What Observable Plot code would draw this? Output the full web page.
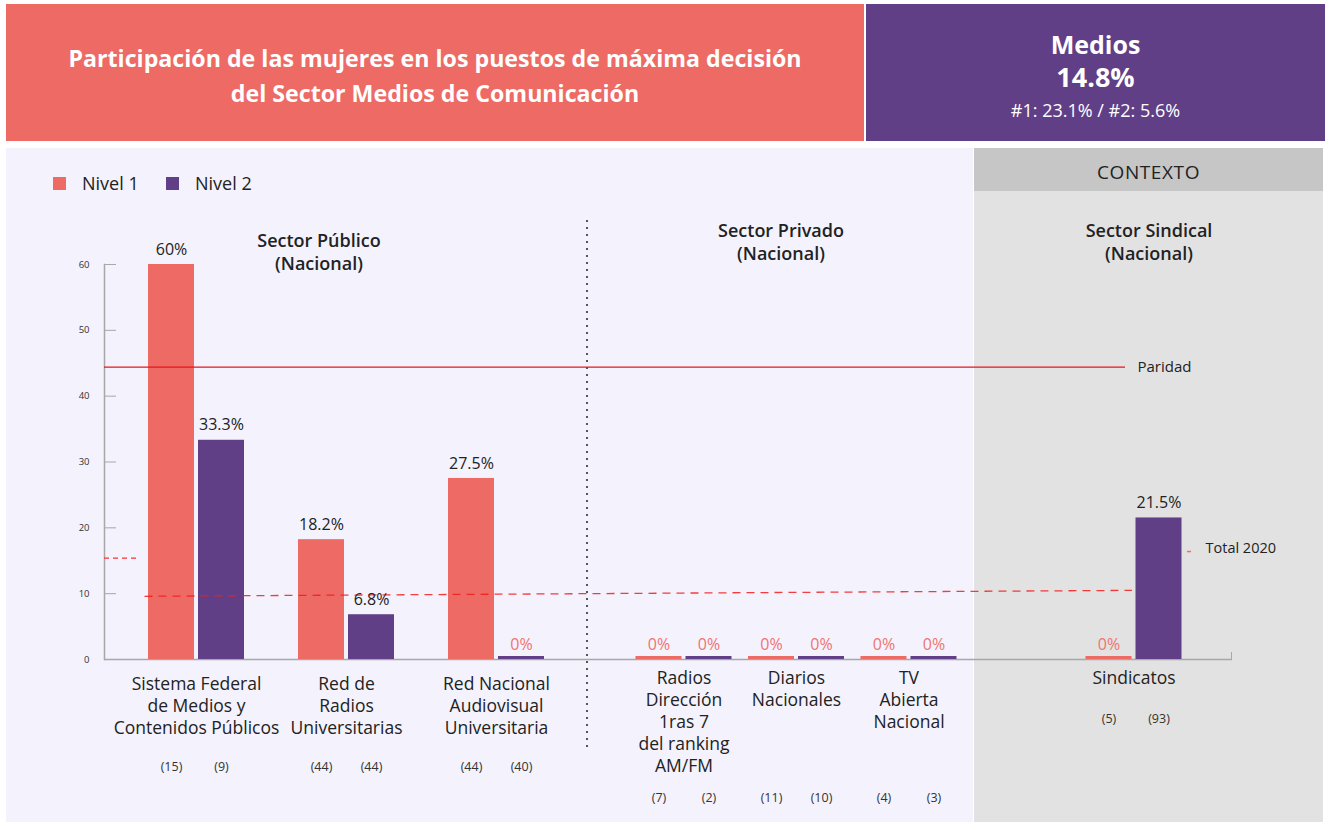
<!DOCTYPE html>
<html><head><meta charset="utf-8">
<script src="https://cdn.jsdelivr.net/npm/d3@7"></script>
<script src="https://cdn.jsdelivr.net/npm/@observablehq/plot@0.6"></script>
<style>
body{margin:0;width:1325px;height:832px;position:relative;background:#fff;font-family:"Open Sans","Noto Sans",sans-serif;overflow:hidden;color:#222}
.abs{position:absolute}
.c{text-align:center;white-space:nowrap}
</style></head><body>
<div class="abs" style="left:6px;top:4px;width:858px;height:137px;background:#EE6A65"></div>
<div class="abs" style="left:866px;top:4px;width:459px;height:137px;background:#613F86"></div>
<div class="abs c" style="left:6px;width:858px;top:41px;line-height:35px;font-size:23.2px;font-weight:700;color:#fff">Participación de las mujeres en los puestos de máxima decisión<br>del Sector Medios de Comunicación</div>
<div class="abs c" style="left:866px;width:459px;top:29px;line-height:30px;font-size:25px;font-weight:700;color:#fff">Medios</div>
<div class="abs c" style="left:866px;width:459px;top:62px;line-height:30px;font-size:27px;font-weight:700;color:#fff">14.8%</div>
<div class="abs c" style="left:866px;width:459px;top:99px;line-height:22px;font-size:18px;color:#fff">#1: 23.1% / #2: 5.6%</div>

<div class="abs" style="left:6px;top:148px;width:967px;height:674px;background:#F3F2FD"></div>
<div class="abs" style="left:974px;top:148px;width:349px;height:43px;background:#C6C6C6"></div>
<div class="abs" style="left:974px;top:191px;width:349px;height:631px;background:#E2E2E2"></div>
<div class="abs c" style="left:974px;width:349px;top:160px;line-height:24px;font-size:19px;letter-spacing:0.6px;font-weight:500">CONTEXTO</div>

<div class="abs" style="left:53px;top:177px;width:13px;height:13px;background:#EE6A65"></div>
<div class="abs" style="left:82px;top:171px;line-height:24px;font-size:18px">Nivel 1</div>
<div class="abs" style="left:166px;top:177px;width:13px;height:13px;background:#613F86"></div>
<div class="abs" style="left:195px;top:171px;line-height:24px;font-size:18px">Nivel 2</div>

<div class="abs c" style="left:219px;width:200px;top:229px;line-height:23px;font-size:18px;font-weight:600">Sector Público<br>(Nacional)</div>
<div class="abs c" style="left:681px;width:200px;top:219px;line-height:23px;font-size:18px;font-weight:600">Sector Privado<br>(Nacional)</div>
<div class="abs c" style="left:1049px;width:200px;top:219px;line-height:23px;font-size:18px;font-weight:600">Sector Sindical<br>(Nacional)</div>

<div class="abs" style="left:586px;top:220px;width:2px;height:530px;background:repeating-linear-gradient(to bottom,#555 0 2px,transparent 2px 7px)"></div>

<div id="chart" class="abs" style="left:0;top:145px"></div>
<script>
const categorias = [
  "Sistema Federal\nde Medios y\nContenidos Públicos",
  "Red de\nRadios\nUniversitarias",
  "Red Nacional\nAudiovisual\nUniversitaria",
  "Radios\nDirección\n1ras 7\ndel ranking\nAM/FM",
  "Diarios\nNacionales",
  "TV\nAbierta\nNacional",
  "Sindicatos"
];
const sectores = ["publico", "publico", "publico", "privado", "privado", "privado", "sindical"];
const nivel1 = [60, 18.2, 27.5, 0, 0, 0, 0];
const nivel2 = [33.3, 6.8, 0, 0, 0, 0, 21.5];
const casos1 = [15, 44, 44, 7, 11, 4, 5];
const casos2 = [9, 44, 40, 2, 10, 3, 93];
const yTicks = [0, 10, 20, 30, 40, 50, 60];
const paridad = 44.4;
const totalInicio = 9.6;
const totalFin = 10.5;
const totalMarcaIzq = 15.4;
const totalMarcaDer = 16.4;

const salmon = "#EE6A65", morado = "#613F86";
const colores = [salmon, morado];

// layout: empty band slots before each group (each group takes 5 slots)
const huecos = [0, 7, 7, 10, 4, 4, 13];
const dominio = [];
categorias.forEach((c, i) => {
  for (let k = 0; k < huecos[i]; k++) dominio.push(`h${i}-${k}`);
  dominio.push(`${i}|1`, `${i}|a`, `${i}|c`, `${i}|b`, `${i}|2`);
});

const filas = [];
categorias.forEach((c, i) => {
  filas.push({slot: `${i}|1`, nivel: 1, v: nivel1[i], n: casos1[i], sector: sectores[i]});
  filas.push({slot: `${i}|2`, nivel: 2, v: nivel2[i], n: casos2[i], sector: sectores[i]});
});
const grupos = categorias.map((c, i) => ({slot: `${i}|c`, label: c, sector: sectores[i]}));
const lineaTotal = [{x1: "0|1", x2: `${categorias.length - 1}|2`, y1: totalInicio, y2: totalFin}];

const dyCat = {publico: 15, privado: 9, sindical: 9};
const dyN = {publico: 111, privado: 142, sindical: 63};
const barInset = -16.75;

const marks = [
  Plot.ruleY([0], {stroke: "#A8A8A8", strokeWidth: 1.5}),
  Plot.frame({anchor: "left", stroke: "#A8A8A8", strokeWidth: 1.5}),
  Plot.ruleY(yTicks, {stroke: "#A8A8A8", insetRight: 1116}),
  Plot.axisY(yTicks, {tickSize: 0, tickPadding: 15, fontSize: 9.5, fill: "#333", label: null}),
  Plot.rect([0], {insetLeft: 1127, insetTop: 388, fill: "#A8A8A8"}),
  Plot.barY(filas.filter(d => d.v > 0), {x: "slot", y: "v", fill: d => colores[d.nivel - 1], insetLeft: barInset, insetRight: barInset}),
  Plot.barY(filas.filter(d => d.v === 0), {x: "slot", y: "v", fill: d => colores[d.nivel - 1], insetLeft: barInset, insetRight: barInset, insetTop: -3}),
  Plot.ruleY([paridad], {stroke: "#E8141B", strokeWidth: 1.3, insetRight: 107}),
  Plot.text([{y: paridad, t: "Paridad"}], {y: "y", text: "t", frameAnchor: "right", dx: -95, textAnchor: "start", fontSize: 15, fill: "#222"}),
  Plot.link(lineaTotal, {x1: "x1", x2: "x2", y1: "y1", y2: "y2", dx: -27, stroke: "#F21C1C", strokeOpacity: 0.85, strokeWidth: 1.3, strokeDasharray: "8,6"}),
  Plot.ruleY([totalMarcaIzq], {stroke: "#F33", strokeWidth: 1.2, strokeDasharray: "5,4", insetRight: 1092}),
  Plot.ruleY([totalMarcaDer], {stroke: "#F66", strokeWidth: 1.5, insetLeft: 1083, insetRight: 41}),
  Plot.text([{y: totalMarcaDer, t: "Total 2020"}], {y: "y", text: "t", frameAnchor: "right", dx: -27, dy: -3, textAnchor: "start", fontSize: 14.5, fill: "#222"}),
  Plot.text(filas, {x: "slot", y: "v", text: d => `${d.v}%`, dy: -15, fontSize: 16, fill: d => d.v === 0 ? "#F07470" : "#222"})
];
for (const s of ["publico", "privado", "sindical"]) {
  marks.push(Plot.text(grupos.filter(d => d.sector === s), {x: "slot", frameAnchor: "bottom", text: "label", lineAnchor: "top", dy: dyCat[s], fontSize: 17.5, lineHeight: 1.26, fill: "#222"}));
  marks.push(Plot.text(filas.filter(d => d.sector === s), {x: "slot", frameAnchor: "bottom", text: d => `(${d.n})`, dy: dyN[s], fontSize: 12.5, fill: "#333"}));
}

const chart = Plot.plot({
  width: 1325, height: 680,
  marginLeft: 104, marginRight: 93, marginTop: 119, marginBottom: 166,
  x: {type: "band", domain: dominio, range: [164.75, 1164.75], padding: 0, round: false, axis: null},
  y: {domain: [0, 60], range: [514, 119], axis: null},
  color: {type: "identity"},
  style: {fontFamily: "'Open Sans', 'Noto Sans', sans-serif", background: "transparent", overflow: "visible"},
  marks
});
document.getElementById("chart").appendChild(chart);
</script>
</body></html>
